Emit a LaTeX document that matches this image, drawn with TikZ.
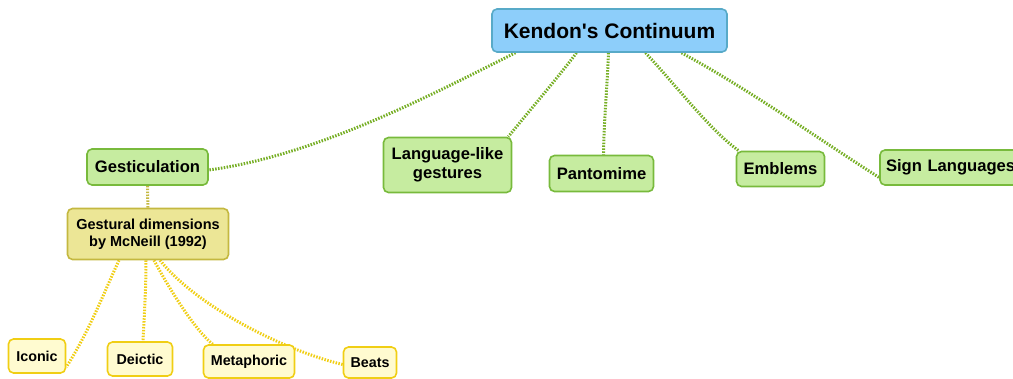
\documentclass[tikz,border=0pt]{standalone}
\usepackage{fontspec}
\setmainfont{Liberation Sans}[Ligatures=TeXOff]
\usetikzlibrary{backgrounds}
\definecolor{kblue}{RGB}{141,206,250}
\definecolor{kblueline}{RGB}{88,170,200}
\definecolor{kgreen}{RGB}{198,236,160}
\definecolor{kgreenline}{RGB}{120,186,60}
\definecolor{kgreendot}{RGB}{118,174,36}
\definecolor{kolive}{RGB}{236,230,150}
\definecolor{koliveline}{RGB}{196,184,64}
\definecolor{kcream}{RGB}{255,251,208}
\definecolor{kgold}{RGB}{240,206,20}
\begin{document}
\begin{tikzpicture}[x=1pt, y=-1pt,
    every node/.style={draw, rounded corners=5pt, line width=1.6pt, align=center, inner sep=0pt},
    root/.style={fill=kblue, draw=kblueline, font=\fontsize{21}{23}\selectfont\bfseries},
    branch/.style={fill=kgreen, draw=kgreenline, font=\fontsize{16.6}{19}\selectfont\bfseries},
    dims/.style={fill=kolive, draw=koliveline, font=\fontsize{14.5}{17}\selectfont\bfseries},
    leaf/.style={fill=kcream, draw=kgold, font=\fontsize{14.3}{17}\selectfont\bfseries},
    twig/.style={draw=kgreendot, line width=3pt, dash pattern=on 1.5pt off 1.4pt},
    twigolive/.style={twig, draw=koliveline},
    twiggold/.style={twig, draw=kgold}]
    \useasboundingbox (0,0) rectangle (1013,378);
    \clip (0,0) rectangle (1013,378);

    % Nodes
    \node[root, minimum width=235pt, minimum height=43pt] at (609.5,30.5) (kendon) {Kendon's Continuum};
    \node[branch, minimum width=121pt, minimum height=36pt] at (147.5,167) (gestic) {Gesticulation};
    \node[dims, minimum width=161pt, minimum height=51pt] at (148,234) (dims) {Gestural dimensions\\by McNeill (1992)};
    \node[branch, minimum width=128pt, minimum height=55pt] at (447.5,165) (langlike) {Language-like\\gestures};
    \node[branch, minimum width=104pt, minimum height=36pt] at (601.5,173.5) (panto) {Pantomime};
    \node[branch, minimum width=88pt, minimum height=35pt] at (780.5,169) (emblems) {Emblems};
    \node[branch, minimum width=143pt, minimum height=35pt, text width=131pt, align=left] at (951.5,167.5) (sign) {Sign Languages};
    \node[leaf, minimum width=57pt, minimum height=34pt] at (37,356) (iconic) {Iconic};
    \node[leaf, minimum width=65pt, minimum height=34pt] at (140,359) (deictic) {Deictic};
    \node[leaf, minimum width=91pt, minimum height=33pt] at (249,361.5) (metaphoric) {Metaphoric};
    \node[leaf, minimum width=53pt, minimum height=31pt] at (370,362.5) (beats) {Beats};

    % Edges
    \begin{scope}[on background layer]
        \draw[twig] ([xshift=-94pt]kendon.south) .. controls (440,90) and (320,155) .. ([yshift=-3pt]gestic.east);
        \draw[twig] ([xshift=-33pt]kendon.south) .. controls (560,75) and (530,110) .. ([xshift=-4pt]langlike.north east);
        \draw[twig] ([xshift=-1pt]kendon.south) .. controls (607,90) and (604,120) .. ([xshift=2pt]panto.north);
        \draw[twig] ([xshift=36pt]kendon.south) .. controls (680,90) and (710,130) .. ([xshift=3pt]emblems.north west);
        \draw[twig] ([xshift=72pt]kendon.south) .. controls (750,90) and (820,140) .. ([yshift=-10pt]sign.west);
        \draw[twigolive] (gestic) -- (dims);
        \draw[twiggold] ([xshift=-29pt]dims.south) .. controls (105,290) and (90,330) .. ([yshift=-11pt]iconic.east);
        \draw[twiggold] ([xshift=-2pt]dims.south) .. controls (146,290) and (144,320) .. ([xshift=3pt]deictic.north);
        \draw[twiggold] ([xshift=6pt]dims.south) .. controls (170,290) and (195,330) .. ([xshift=10pt]metaphoric.north west);
        \draw[twiggold] ([xshift=12pt]dims.south) .. controls (200,310) and (290,352) .. ([yshift=-2pt]beats.west);
    \end{scope}
\end{tikzpicture}
\end{document}
